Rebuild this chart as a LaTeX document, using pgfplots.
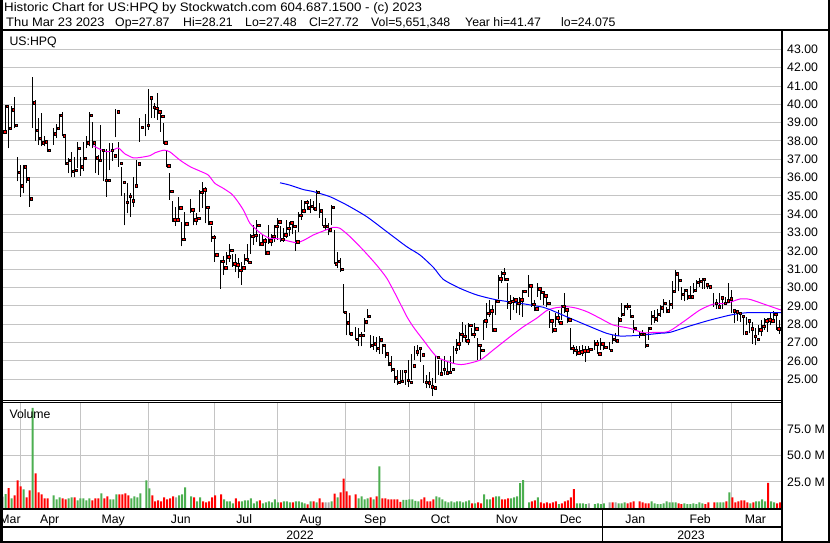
\documentclass[border=0pt]{standalone}
\usepackage{fontspec}
\setmainfont{Liberation Sans}
\usepackage{pgfplots}
\pgfplotsset{compat=1.18}
\usepackage{pgfplotstable}
\definecolor{gridgray}{RGB}{196,196,196}
\definecolor{volgreen}{RGB}{76,175,80}
\definecolor{volred}{RGB}{255,0,0}
\definecolor{volgray}{RGB}{165,165,165}
\definecolor{magline}{RGB}{255,0,255}
\definecolor{blueline}{RGB}{0,0,255}
\newcommand\tickfont{\fontsize{12.3}{14}\selectfont}

% slot  low  high  close  volume(M)  colour(1 up, -1 down, 0 flat)
\pgfplotstableread{
x lo hi cl v c
0 37.8 39.15 38.5 11 0
1 38.4 39.95 39.9 13.5 1
2 37.6 39.9 38.7 19 -1
3 38.7 39.9 39.7 9.4 1
4 38.7 40.4 38.85 12.3 -1
5 35.8 37.15 36.3 26.4 -1
6 34.95 36.7 35.55 20.7 -1
7 35.15 36.7 36.6 17.9 1
8 35.7 36.65 35.95 10.4 -1
9 34.4 35.8 34.85 17 -1
10 38.7 41.47 40.1 95 1
11 38.0 40.25 38.6 33 -1
12 37.8 39.25 38.15 15 -1
13 37.7 39.55 37.9 13.2 -1
14 37.7 38.25 37.95 9.4 -1
15 37.4 38.05 37.5 9.4 -1
17 37.8 38.7 38.4 12.3 1
18 38.15 38.95 38.7 8.5 1
19 38.6 39.5 39.4 10.4 1
20 38.25 39.6 38.3 9.4 -1
21 36.7 38.15 36.8 8.5 -1
22 36.25 37.05 36.95 9.4 1
23 36.05 37.4 36.35 10.4 1
24 36.05 37.15 36.4 10.4 -1
25 36.5 37.95 37.6 7.5 1
26 36.1 37.15 36.6 9.4 1
27 36.35 37.95 37.05 9.4 1
28 37.6 38.25 37.9 7.5 1
29 37.7 39.6 39.4 9.4 1
30 37.6 39.05 37.9 7.5 -1
31 36.25 37.8 37.1 9.4 -1
32 36.15 37.25 36.95 9.4 -1
33 36.85 38.85 37.5 14.1 1
34 35.8 37.5 35.85 9.4 -1
35 34.95 37.55 35.85 11.3 -1
36 36.4 37.9 37.5 8.5 1
37 36.9 37.9 37.2 8.5 1
38 38.2 39.75 39.6 13.2 1
39 36.6 37.95 36.8 13.2 -1
40 35.0 36.6 35.75 13.2 -1
41 33.4 35.15 34.65 14.1 -1
42 34.05 35.7 35.0 12.3 -1
43 33.85 35.15 34.75 9.4 1
44 34.4 36.05 35.55 11.3 1
45 35.5 36.95 36.75 10.4 1
46 37.95 39.25 38.75 14.1 1
48 38.25 39.5 38.85 26.4 1
49 38.6 40.85 40.35 18.9 1
50 39.25 40.4 39.85 12.3 -1
51 39.25 40.05 39.8 6.6 -1
52 39.15 40.6 39.6 7.5 -1
53 38.5 39.5 39.35 6.6 -1
54 37.85 39.0 37.9 10.4 -1
55 36.6 37.5 36.65 8.5 -1
56 34.8 36.25 35.25 9.4 -1
57 33.6 34.7 33.7 11.3 -1
58 33.35 34.4 33.7 10.4 0
59 33.7 34.95 34.35 12.3 1
60 32.25 33.6 32.65 13.2 1
61 32.6 34.15 33.5 19.8 1
63 34.05 34.85 34.25 11.3 1
64 33.4 34.25 33.7 10.4 -1
65 33.4 34.05 33.8 6.6 1
66 34.15 35.35 35.2 10.4 1
67 34.35 35.75 35.35 6.6 -1
68 33.5 35.5 34.4 5.7 -1
69 33.4 34.35 33.55 6.6 -1
70 32.5 33.35 32.75 10.4 -1
71 31.4 32.85 31.8 12.3 -1
73 29.95 31.5 31.45 13.2 -1
74 30.7 31.7 31.1 8.5 1
75 31.25 31.95 31.7 6.6 1
76 31.4 32.4 32.05 6.6 1
77 31.15 31.85 31.3 4.7 1
78 30.85 31.85 31.25 9.4 -1
79 30.5 31.6 30.95 6.6 -1
80 30.15 31.4 31.1 6.6 1
81 31.25 31.85 31.55 7.5 1
82 31.4 32.4 31.4 7.5 1
83 31.85 32.95 32.8 9.4 1
84 32.35 33.4 32.85 4.7 1
85 32.5 33.7 33.4 6.6 1
86 32.25 32.95 32.4 7.5 -1
87 32.25 32.95 32.55 4.7 1
88 31.8 32.7 31.9 5.7 1
89 32.4 33.4 32.55 6.6 1
90 32.25 32.95 32.8 5.7 1
91 32.5 33.4 33.35 8.5 1
92 32.6 33.8 33.6 5.7 1
93 32.5 33.35 32.65 5.7 -1
94 32.5 33.25 32.9 6.6 1
95 32.7 33.7 33.25 6.6 1
96 32.8 33.6 33.55 5.7 1
97 32.9 33.6 33.35 5.7 -1
98 32.0 33.15 32.5 6.6 1
99 33.05 34.15 33.95 6.6 1
100 33.7 34.8 34.2 5.7 1
101 34.05 34.7 34.65 4.7 1
102 34.25 34.8 34.35 3.8 -1
103 34.05 34.85 34.45 6.6 1
104 34.25 34.7 34.3 6.6 -1
105 34.25 35.35 35.2 5.7 1
106 33.8 34.6 34.2 9.4 -1
107 33.35 34.05 33.35 5.7 -1
108 33.15 33.8 33.35 5.7 0
109 32.85 33.5 33.15 5.7 0
110 33.4 34.5 34.4 6.6 1
111 31.3 33.15 31.3 14 -1
112 31.05 31.95 31.45 10.4 1
113 30.85 31.6 31.0 15 -1
114 28.6 30.2 28.65 28 -1
115 27.4 28.6 28.1 16 -1
116 27.4 28.6 27.5 12.3 -1
118 27.15 27.85 27.2 13.2 -1
119 26.8 27.8 27.4 9.4 1
120 26.8 27.6 27.4 11.3 1
121 27.6 28.35 28.15 8.5 1
122 28.35 28.85 28.45 9.4 1
123 26.7 27.4 26.85 10.4 -1
124 26.6 27.35 26.95 8.5 1
125 26.5 27.3 26.7 11.3 -1
126 26.4 27.35 27.15 39.6 1
127 26.4 26.95 26.85 9.4 -1
128 26.15 26.85 26.4 9.4 -1
129 25.7 26.4 25.85 8.5 -1
130 25.4 26.25 25.55 8.5 -1
131 24.8 25.6 25.1 8.5 -1
132 24.7 25.5 24.85 8.5 -1
133 24.8 25.5 24.9 6 -1
134 24.85 25.5 25.45 8 1
135 24.7 25.5 24.95 8 1
136 24.6 26.05 24.85 8.5 1
137 24.95 26.4 25.75 8.5 1
138 26.05 26.8 26.5 7 1
139 26.25 26.85 26.7 6.6 1
140 25.95 26.6 26.35 8.5 -1
141 24.8 25.8 24.85 10.4 -1
142 24.5 25.25 24.8 6.6 -1
143 24.5 25.4 24.6 6.6 -1
144 24.075 25.05 24.55 8.5 -1
145 24.8 26.25 26.2 11.3 1
146 25.25 26.05 25.3 10.4 1
147 25.35 26.05 25.55 8.5 1
148 25.25 26.25 25.35 6.6 1
149 25.35 25.95 25.4 5.7 1
150 25.4 26.25 25.55 6.6 1
151 25.85 26.8 26.65 5.7 1
152 26.4 27.2 26.95 6.6 1
153 26.6 27.6 27.45 6.6 1
154 27.05 28.1 27.35 5.7 1
155 27.05 27.95 27.1 6.6 1
156 26.85 28.05 27.95 7.5 1
157 27.35 27.8 27.45 4.7 -1
158 27.25 28.05 27.75 4.7 1
159 26.05 27.25 26.85 5.7 -1
160 26.05 26.85 26.6 4.7 -1
161 27.15 28.25 28.2 13.2 1
162 27.8 29.15 28.6 8.5 1
163 28.4 29.35 28.75 8.5 1
164 27.6 29.05 27.7 10.4 -1
165 28.5 29.35 29.25 11.3 1
166 29.4 30.7 30.5 11.3 1
167 30.25 30.9 30.8 8.5 -1
168 30.35 31.05 30.45 8.5 -1
169 28.85 30.25 29.2 9.4 -1
170 28.25 29.6 29.25 9.4 1
171 28.8 29.5 29.35 10.4 1
172 28.6 29.35 29.15 11.3 1
173 28.5 29.5 29.35 23.9 1
174 28.4 29.85 29.8 26.7 1
176 29.5 30.7 30.1 5.7 1
177 28.95 30.05 29.1 6.6 -1
178 28.7 29.35 28.85 7.5 -1
179 29.5 30.25 29.95 10.4 1
180 29.35 30.0 29.75 5.7 -1
181 29.05 29.8 29.55 4.7 -1
182 28.95 29.5 29.15 5.7 -1
183 27.8 28.7 28.2 4.7 -1
184 27.5 28.15 27.7 5.7 -1
185 27.85 28.6 28.35 6.6 -1
186 28.05 28.8 28.1 4 1
187 28.25 29.05 29.0 4.7 -1
188 28.6 29.7 28.8 6.6 -1
189 28.05 28.85 28.25 7.5 -1
190 26.6 27.8 26.7 10.4 -1
191 26.4 26.85 26.6 18.2 -1
192 26.25 26.8 26.45 4.7 1
193 26.4 26.8 26.5 4.7 1
194 26.25 26.85 26.55 4.7 1
195 25.95 26.8 26.55 4 1
196 26.5 26.8 26.65 4.7 0
198 26.6 27.15 26.95 4 1
199 26.4 27.15 26.4 4.7 1
200 26.6 27.25 26.95 4 1
201 26.6 26.85 26.75 4.7 1
203 26.6 27.05 26.6 5.7 0
204 26.95 27.4 27.2 5.7 -1
205 27.05 27.5 27.1 5.7 0
206 27.35 28.4 28.25 4.7 1
207 28.4 29.15 28.55 4.7 1
208 28.5 29.05 29.0 5.7 1
209 28.8 29.15 29.0 4.7 -1
210 28.35 28.85 28.45 5.7 -1
211 27.5 28.25 27.8 6.6 -1
213 27.25 27.6 27.45 6.6 -1
214 27.4 27.7 27.45 5.7 -1
215 26.7 27.4 26.85 4.7 -1
216 27.15 27.85 27.8 4.7 -1
217 27.95 28.7 28.45 6.6 1
218 28.05 28.8 28.3 4.7 1
219 28.15 28.85 28.55 4 1
220 28.4 29.05 28.9 4 1
221 28.6 29.4 29.15 4.7 1
222 28.6 28.95 28.75 6.6 1
223 28.7 29.35 29.1 5.7 1
224 28.85 30.35 29.8 5.7 1
225 29.85 30.95 30.75 5.7 1
226 29.8 30.8 30.4 4.7 -1
227 29.35 30.05 29.65 4 -1
228 29.25 29.95 29.85 4.7 1
229 29.35 29.8 29.5 4 1
230 29.4 30.1 29.5 4 1
231 29.7 30.25 29.85 4.7 1
232 29.85 30.4 30.3 4 1
233 30.05 30.5 30.35 5.7 1
234 29.95 30.5 30.45 4.7 1
235 29.95 30.4 30.15 4 -1
236 29.95 30.25 30.05 5.7 -1
238 28.95 29.7 29.15 5.7 -1
239 28.85 29.4 28.95 5.7 1
240 28.95 29.7 29.45 5.7 1
241 28.85 29.4 29.15 5.7 1
242 29.05 29.5 29.3 6.6 -1
243 29.15 30.25 29.4 15 1
244 28.6 29.85 28.75 10.4 -1
245 28.05 28.8 28.7 5.7 -1
246 28.2 28.75 28.6 6.6 -1
247 28.15 28.6 28.45 7.5 -1
248 27.4 28.4 27.55 7.5 -1
249 27.95 28.4 28.2 5.7 -1
250 27.5 28.25 27.75 4.7 1
251 26.95 28.15 27.35 5.7 -1
252 26.85 27.8 27.2 6.6 1
253 27.4 27.95 27.7 6.6 1
254 27.35 28.25 27.9 8.5 1
255 27.7 28.35 28.2 6.6 1
256 27.6 28.35 28.25 24 -1
257 27.95 28.6 28.2 6.6 1
258 28.05 28.7 28.55 5.7 1
259 27.7 28.6 27.75 4.7 -1
260 27.48 28.21 27.72 5.65 -1
}\ohlc

\pgfplotstableread{
x y
30.4 37.74
32.7 37.55
34.9 37.42
36.5 37.45
38.8 37.62
41.0 37.3
43.8 37.08
46.0 37.1
49.4 37.2
51.1 37.36
54.1 37.5
56.1 37.4
59.4 36.96
62.8 36.6
66.1 36.36
68.9 36.14
71.1 35.69
73.9 35.42
76.7 35.11
78.4 34.78
80.6 34.24
82.8 33.51
84.5 33.24
86.7 32.93
89.5 32.69
92.9 32.66
95.5 32.55
98.5 32.45
101 32.6
104 32.87
107.5 33.1
110.7 33.29
112.9 33.24
116.3 32.78
120.7 32.05
125.2 31.23
128.6 30.51
131.9 29.51
135.3 28.42
137.5 27.85
140.8 27.14
145.3 26.23
150.8 25.87
154.2 25.81
159.8 26.05
164.2 26.6
169.8 27.32
174.3 27.87
178.7 28.33
182.1 28.75
185 28.9
188.8 28.96
192 28.88
195.5 28.69
199.9 28.33
204.3 27.96
209.9 27.78
214.4 27.54
218 27.56
222.7 27.6
227.8 28.14
233.3 28.78
237.8 29.1
242.3 29.15
246.7 29.38
250 29.36
255.6 29.05
260.4 28.78
}\maA

\pgfplotstableread{
x y
92.9 35.72
96 35.6
100.7 35.35
104 35.24
109.6 34.96
115.2 34.51
121.9 33.87
128.6 33.05
135.3 32.23
139.7 31.78
144.2 31.1
147.5 30.45
153.1 29.96
158.7 29.6
165.4 29.33
173.1 29.15
180.9 28.93
183.2 28.8
189.9 28.33
196.6 27.87
202.1 27.51
206.6 27.36
213.3 27.4
220 27.51
223.3 27.56
230 27.91
236.7 28.23
243.4 28.5
248.9 28.63
260.4 28.63
}\maB

\begin{document}
\begin{tikzpicture}
\useasboundingbox (0pt,0pt) rectangle (830pt,543pt);
\fill[white] (0pt,0pt) rectangle (830pt,543pt);

% ---------- price panel ----------
\begin{axis}[
  at={(2pt,143pt)}, anchor=south west, scale only axis,
  width=779pt, height=368.7pt,
  xmin=-0.1, xmax=260.43, ymin=23.87, ymax=43.985,
  axis line style={draw=none},
  major tick length=0pt, minor tick length=0pt,
  xtick=\empty,
  minor xtick={6.09,26.15,48.83,70.9,91.97,114.85,136.12,157.86,180.17,200.8,223.88,243.95},
  xminorgrids=true,
  ytick={25,26,...,43}, ymajorgrids=true,
  grid style={draw=gridgray, line width=1pt},
  minor grid style={draw=gridgray, line width=1pt},
  yticklabel pos=right,
  yticklabel={\pgfmathprintnumber[fixed,fixed zerofill,precision=2,assume math mode=true]{\tick}},
  yticklabel style={anchor=west, inner sep=0pt, xshift=6pt, font=\tickfont},
]
\addplot[draw=none, mark=none, forget plot,
  error bars/.cd, y dir=plus, y explicit, error mark=none,
  error bar style={draw=black, line width=0.95pt}]
  table[x=x, y=lo, y error expr=\thisrow{hi}-\thisrow{lo}] {\ohlc};
\addplot[only marks, mark=square*, mark size=1.25pt, mark options={draw=none, fill=red}, forget plot]
  table[x expr=\thisrow{x}+0.72, y=cl] {\ohlc};
\addplot[magline, line width=1pt, mark=none, smooth, tension=0.4] table[x=x, y=y] {\maA};
\addplot[blueline, line width=1pt, mark=none, smooth, tension=0.4] table[x=x, y=y] {\maB};
\end{axis}

% ---------- volume panel ----------
\begin{axis}[
  at={(2pt,34.7pt)}, anchor=south west, scale only axis,
  width=779pt, height=105.6pt,
  xmin=-0.1, xmax=260.43, ymin=0, ymax=100,
  axis line style={draw=none},
  major tick length=0pt, minor tick length=0pt,
  xtick={2.6,15.85,37.1,59.7,80.9,103.2,124.7,146.5,168.7,190.1,211.7,233.4,251.9},
  xticklabels={Mar,Apr,May,Jun,Jul,Aug,Sep,Oct,Nov,Dec,Jan,Feb,Mar},
  xticklabel style={anchor=base, inner sep=0pt, yshift=-15pt, font=\tickfont},
  minor xtick={6.09,26.15,48.83,70.9,91.97,114.85,136.12,157.86,180.17,200.8,223.88,243.95},
  xminorgrids=true, xmajorgrids=false,
  ytick={25,50,75}, yticklabels={25.0 M,50.0 M,75.0 M}, ymajorgrids=true,
  grid style={draw=gridgray, line width=1pt},
  minor grid style={draw=gridgray, line width=1pt},
  yticklabel pos=right,
  yticklabel style={anchor=west, inner sep=0pt, xshift=6pt, font=\tickfont},
]
\addplot[ybar, bar width=2pt, bar shift=0pt, draw=none, fill=volgreen, forget plot]
  table[x expr=\thisrow{x}+0.15, y expr={ifthenelse(\thisrow{c}==1,\thisrow{v},0)}] {\ohlc};
\addplot[ybar, bar width=2pt, bar shift=0pt, draw=none, fill=volred, forget plot]
  table[x expr=\thisrow{x}+0.15, y expr={ifthenelse(\thisrow{c}==-1,\thisrow{v},0)}] {\ohlc};
\addplot[ybar, bar width=2pt, bar shift=0pt, draw=none, fill=volgray, forget plot]
  table[x expr=\thisrow{x}+0.15, y expr={ifthenelse(\thisrow{c}==0,\thisrow{v},0)}] {\ohlc};
\end{axis}

% ---------- frame ----------
\fill[black] (0pt,0pt) rectangle (2.5pt,543pt);
\fill[black] (828pt,0pt) rectangle (830pt,543pt);
\fill[black] (0pt,511.5pt) rectangle (830pt,513.7pt);
\fill[black] (781pt,0pt) rectangle (783pt,512pt);
\fill[black] (0pt,142.3pt) rectangle (781pt,143.1pt);
\fill[black] (0pt,140.3pt) rectangle (781pt,141.2pt);
\fill[black] (0pt,32.7pt) rectangle (783pt,34.7pt);
\fill[black] (0pt,15pt) rectangle (783pt,17pt);
\fill[black] (0pt,0pt) rectangle (830pt,2.3pt);
\fill[black] (602pt,2pt) rectangle (603.3pt,33pt);

% ---------- texts ----------
\node[anchor=base west, inner sep=0pt, font=\tickfont] at (4pt,531.3pt)
  {\scalebox{1.08}[1]{Historic Chart for US:HPQ by Stockwatch.com 604.687.1500 - (c) 2023}};
\node[anchor=base west, inner sep=0pt, font=\tickfont] at (6pt,516.3pt) {\scalebox{1.05}[1]{Thu Mar 23 2023}};
\node[anchor=base west, inner sep=0pt, font=\tickfont] at (115pt,516.3pt) {Op=27.87};
\node[anchor=base west, inner sep=0pt, font=\tickfont] at (183pt,516.3pt) {Hi=28.21};
\node[anchor=base west, inner sep=0pt, font=\tickfont] at (245pt,516.3pt) {Lo=27.48};
\node[anchor=base west, inner sep=0pt, font=\tickfont] at (309pt,516.3pt) {Cl=27.72};
\node[anchor=base west, inner sep=0pt, font=\tickfont] at (371pt,516.3pt) {Vol=5,651,348};
\node[anchor=base west, inner sep=0pt, font=\tickfont] at (465pt,516.3pt) {Year hi=41.47};
\node[anchor=base west, inner sep=0pt, font=\tickfont] at (561pt,516.3pt) {lo=24.075};
\node[anchor=base west, inner sep=0pt, font=\tickfont] at (9.3pt,497.5pt) {US:HPQ};
\node[anchor=base west, inner sep=0pt, font=\tickfont] at (9.3pt,124.7pt) {Volume};
\node[anchor=base, inner sep=0pt, font=\tickfont] at (300pt,3.3pt) {2022};
\node[anchor=base, inner sep=0pt, font=\tickfont] at (691pt,3.3pt) {2023};
\end{tikzpicture}
\end{document}
